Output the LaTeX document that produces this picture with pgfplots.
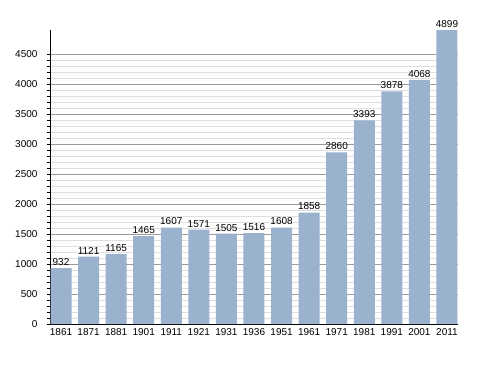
\documentclass[border=0pt]{standalone}
\usepackage{fontspec}
\setmainfont{Liberation Sans}
\usepackage{pgfplots}
\pgfplotsset{compat=1.18}
\definecolor{barc}{RGB}{154,178,206}
\definecolor{majg}{RGB}{155,155,155}
\definecolor{ming}{RGB}{222,222,222}
\begin{document}
\begin{tikzpicture}[x=1pt,y=1pt]
\path[use as bounding box] (0,0) rectangle (488,373);
\begin{axis}[
  at={(50pt,49pt)}, anchor=south west,
  scale only axis, width=408pt, height=294pt,
  xmin=-0.4, xmax=14.4, ymin=0, ymax=4900,
  axis x line*=bottom, axis y line*=left,
  axis line style={black, line width=0.8pt},
  xtick={0,...,14},
  xticklabels={1861,1871,1881,1901,1911,1921,1931,1936,1951,1961,1971,1981,1991,2001,2011},
  x tick style={draw=none},
  ytick={0,500,...,4500},
  minor y tick num=4,
  y tick style={black, line width=0.6pt},
  tick align=outside,
  major tick length=3pt, minor tick length=3pt,
  ymajorgrids, yminorgrids,
  major grid style={majg, line width=0.6pt},
  minor grid style={ming, line width=0.6pt},
  tick label style={font=\fontsize{10}{12}\selectfont},
  /pgf/number format/assume math mode=true,
  /pgf/number format/1000 sep={},
  yticklabel style={xshift=-6pt},
  xticklabel style={yshift=2pt},
  ybar, bar width=21pt,
  nodes near coords,
  every node near coord/.append style={font=\fontsize{10}{12}\selectfont, black, yshift=-1pt},
  clip=false,
]
\addplot[fill=barc, draw=none] coordinates {
(0,932) (1,1121) (2,1165) (3,1465) (4,1607) (5,1571) (6,1505) (7,1516)
(8,1608) (9,1858) (10,2860) (11,3393) (12,3878) (13,4068) (14,4899)};
\end{axis}
\end{tikzpicture}
\end{document}
